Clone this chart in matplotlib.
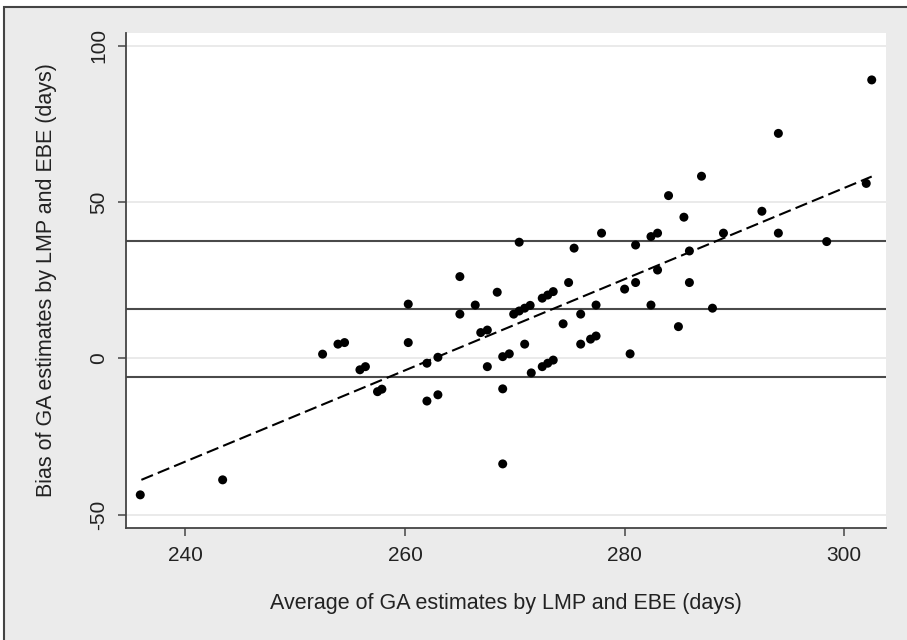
import matplotlib
matplotlib.use("Agg")
import matplotlib.pyplot as plt
from matplotlib.patches import Rectangle
import numpy as np

plt.rcParams['font.family'] = ['Liberation Sans', 'DejaVu Sans']
plt.rcParams['axes.unicode_minus'] = False

# ---- data ----
avg_days = [235.9, 243.4, 252.5, 253.9, 254.5, 255.9, 256.4, 257.5, 257.9, 260.3,
            260.3, 262.0, 263.0, 262.0, 263.0, 265.0, 265.0, 266.4, 266.9, 267.5,
            267.5, 268.4, 268.9, 269.5, 268.9, 268.9, 269.9, 270.4, 270.4, 270.9,
            271.4, 270.9, 271.5, 272.5, 273.0, 273.5, 272.5, 273.0, 273.5, 274.4,
            274.9, 275.4, 276.0, 276.0, 276.9, 277.4, 277.4, 277.9, 280.0, 281.0,
            280.5, 281.0, 282.4, 283.0, 282.4, 283.0, 284.0, 284.9, 285.4, 285.9,
            285.9, 287.0, 288.0, 289.0, 292.5, 294.0, 294.0, 298.4, 302.0, 302.5]
bias_days = [-43.7, -38.9, 1.3, 4.5, 5.0, -3.7, -2.7, -10.7, -9.9, 17.3,
             5.0, -1.6, 0.3, -13.7, -11.7, 26.1, 14.1, 17.0, 8.2, 9.0,
             -2.7, 21.1, 0.5, 1.4, -9.8, -33.8, 14.1, 37.1, 15.1, 16.0,
             16.9, 4.5, -4.7, 19.2, 20.2, 21.3, -2.7, -1.6, -0.6, 11.0,
             24.2, 35.2, 14.1, 4.5, 6.1, 7.1, 17.0, 40.0, 22.1, 24.2,
             1.4, 36.2, 38.9, 40.0, 17.0, 28.2, 52.0, 10.1, 45.1, 34.3,
             24.2, 58.2, 16.0, 40.0, 47.0, 71.9, 40.0, 37.3, 55.9, 89.0]

# mean bias and limits of agreement
agreement_lines = [-5.9, 15.7, 37.4]

# fitted regression line ends
fit_x = [236.0, 302.5]
fit_y = [-38.9, 58.1]

xticks = [240, 260, 280, 300]
yticks = [-50, 0, 50, 100]

W, H = 907, 640
fig = plt.figure(figsize=(W / 100, H / 100), dpi=100)
fig.patch.set_facecolor('white')

# gray graph region with dark border (cut off on right/bottom)
bg = Rectangle((4 / W, -0.2), 1.5, 1 - 7 / H + 0.2, transform=fig.transFigure,
               facecolor='#ebebeb', edgecolor='#444444', linewidth=1.5, zorder=-10)
fig.patches.append(bg)

ax = fig.add_axes([126 / W, 1 - 528 / H, 760 / W, 495.3 / H])
ax.set_facecolor('white')
ax.set_xlim(234.6, 303.8)
ax.set_ylim(-54.3, 104.1)

for s in ['top', 'right']:
    ax.spines[s].set_visible(False)
for s in ['left', 'bottom']:
    ax.spines[s].set_color('#444444')
    ax.spines[s].set_linewidth(1.3)

# light gridlines
for yv in yticks:
    ax.axhline(yv, color='#e6e6e6', lw=1.2, zorder=1)

for yv in agreement_lines:
    ax.axhline(yv, color='#4a4a4a', lw=1.5, zorder=2)

ax.plot(fit_x, fit_y, color='black', lw=1.5, dashes=(6, 2.5), zorder=3)

ax.scatter(avg_days, bias_days, s=42, color='black', edgecolors='none', zorder=4)

ax.set_xticks(xticks)
ax.set_yticks(yticks)
ax.tick_params(axis='both', direction='out', length=6, width=1.1, color='#444444',
               labelsize=15, labelcolor='#222222', pad=7)
for lab in ax.get_yticklabels():
    lab.set_rotation(90)
    lab.set_va('center')

ax.set_xlabel('Average of GA estimates by LMP and EBE (days)', fontsize=15.5,
              color='#222222', va='center')
ax.xaxis.set_label_coords(0.5, -0.153)
ax.set_ylabel('Bias of GA estimates by LMP and EBE (days)', fontsize=15.5,
              color='#222222', va='center')
ax.yaxis.set_label_coords(-0.104, 0.5)

fig.savefig('out.png', dpi=100)
